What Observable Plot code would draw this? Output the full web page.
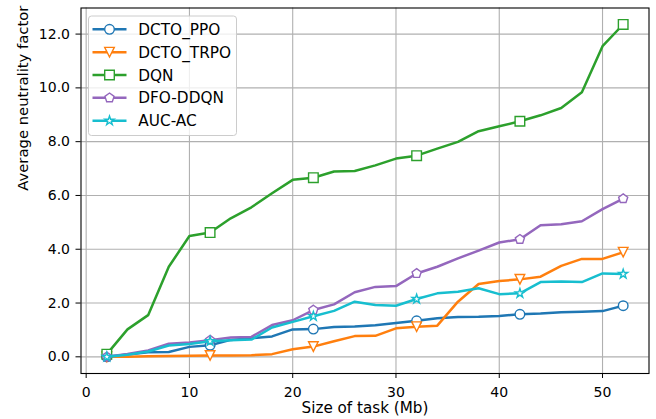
<!DOCTYPE html>
<html>
<head>
<meta charset="utf-8">
<script src="https://cdn.jsdelivr.net/npm/d3@7"></script>
<script src="https://cdn.jsdelivr.net/npm/@observablehq/plot@0.6"></script>
<style>
  html, body { margin: 0; padding: 0; background: #fff; }
  #chart { width: 656px; height: 419px; }
</style>
</head>
<body>
<div id="chart"></div>
<script>
// ---- data ----
const taskSizes = [2, 4, 6, 8, 10, 12, 14, 16, 18, 20, 22, 24, 26, 28, 30, 32, 34, 36, 38, 40, 42, 44, 46, 48, 50, 52];
const dctoPpo  = [0.00, 0.09, 0.17, 0.18, 0.37, 0.43, 0.63, 0.69, 0.76, 1.02, 1.03, 1.11, 1.13, 1.17, 1.26, 1.34, 1.43, 1.48, 1.49, 1.52, 1.58, 1.61, 1.66, 1.68, 1.70, 1.90];
const dctoTrpo = [0.00, 0.00, 0.02, 0.03, 0.04, 0.05, 0.05, 0.06, 0.10, 0.28, 0.38, 0.58, 0.77, 0.78, 1.06, 1.12, 1.16, 2.05, 2.71, 2.82, 2.88, 2.98, 3.38, 3.64, 3.64, 3.89];
const dqn      = [0.10, 1.02, 1.55, 3.35, 4.49, 4.62, 5.15, 5.56, 6.08, 6.58, 6.66, 6.89, 6.91, 7.12, 7.37, 7.48, 7.74, 7.99, 8.39, 8.57, 8.76, 8.98, 9.25, 9.84, 11.55, 12.36];
const dfoDdqn  = [0.00, 0.11, 0.24, 0.49, 0.53, 0.62, 0.72, 0.74, 1.18, 1.36, 1.74, 1.95, 2.40, 2.60, 2.63, 3.10, 3.35, 3.66, 3.95, 4.25, 4.37, 4.89, 4.93, 5.04, 5.49, 5.88];
const aucAc    = [0.00, 0.08, 0.20, 0.42, 0.48, 0.58, 0.62, 0.64, 1.09, 1.30, 1.51, 1.71, 2.05, 1.93, 1.90, 2.15, 2.36, 2.42, 2.55, 2.33, 2.36, 2.78, 2.80, 2.78, 3.10, 3.08];

const seriesNames  = ["DCTO_PPO", "DCTO_TRPO", "DQN", "DFO-DDQN", "AUC-AC"];
const seriesValues = [dctoPpo, dctoTrpo, dqn, dfoDdqn, aucAc];
const seriesColors = ["#1f77b4", "#ff7f0e", "#2ca02c", "#9467bd", "#17becf"];
const seriesMarkers = ["circle", "triangleDown", "square", "pentagon", "star"];
const markEvery = 5;

const xTicks = [0, 10, 20, 30, 40, 50];
const yTicks = [0, 2, 4, 6, 8, 10, 12];
const xLabel = "Size of task (Mb)";
const yLabel = "Average neutrality factor";

// ---- marker shapes (matplotlib-like) ----
const M = 9.6; // marker size in px
const h = M / 2;
const symbols = {
  circle: { draw(c) { c.moveTo(h, 0); c.arc(0, 0, h, 0, 2 * Math.PI); c.closePath(); } },
  square: { draw(c) { c.moveTo(-h, -h); c.lineTo(h, -h); c.lineTo(h, h); c.lineTo(-h, h); c.closePath(); } },
  triangleDown: { draw(c) { c.moveTo(0, h); c.lineTo(-h, -h); c.lineTo(h, -h); c.closePath(); } },
  pentagon: { draw(c) {
    for (let k = 0; k < 5; k++) {
      const a = -Math.PI / 2 + k * 2 * Math.PI / 5;
      const px = h * Math.cos(a), py = h * Math.sin(a);
      if (k === 0) c.moveTo(px, py); else c.lineTo(px, py);
    }
    c.closePath();
  } },
  star: { draw(c) {
    const inner = h * 0.381966;
    for (let k = 0; k < 10; k++) {
      const a = -Math.PI / 2 + k * Math.PI / 5;
      const rr = k % 2 === 0 ? h : inner;
      const px = rr * Math.cos(a), py = rr * Math.sin(a);
      if (k === 0) c.moveTo(px, py); else c.lineTo(px, py);
    }
    c.closePath();
  } }
};

// ---- build rows ----
const rows = [];
seriesNames.forEach((name, s) => {
  seriesValues[s].forEach((v, i) => rows.push({ series: name, s, i, x: taskSizes[i], y: v }));
});

const marks = [
  Plot.gridX(xTicks, { stroke: "#b0b0b0", strokeOpacity: 1, strokeWidth: 1.1 }),
  Plot.gridY(yTicks, { stroke: "#b0b0b0", strokeOpacity: 1, strokeWidth: 1.1 })
];
seriesNames.forEach((name, s) => {
  const d = rows.filter(r => r.s === s);
  marks.push(Plot.line(d, { x: "x", y: "y", stroke: seriesColors[s], strokeWidth: 2.5, strokeLinejoin: "round", strokeLinecap: "square" }));
  marks.push(Plot.dot(d.filter(r => r.i % markEvery === 0), {
    x: "x", y: "y", symbol: symbols[seriesMarkers[s]], r: 4.5,
    fill: "white", stroke: seriesColors[s], strokeWidth: 1.4
  }));
});
marks.push(
  Plot.frame({ stroke: "black", strokeWidth: 1.1 }),
  Plot.axisX(xTicks, { tickSize: 5, tickPadding: 8.5, fontSize: 14, label: null, stroke: "black", color: "black" }),
  Plot.axisY(yTicks, { tickSize: 5, tickPadding: 6, fontSize: 14, label: null, tickFormat: d3.format(".1f"), stroke: "black", color: "black" }),
  Plot.text([xLabel], { frameAnchor: "bottom", text: d => d, dy: 39, fontSize: 15.2, fill: "black" }),
  Plot.text([yLabel], { frameAnchor: "left", text: d => d, dx: -58, rotate: -90, fontSize: 14.8, fill: "black" })
);

const chart = Plot.plot({
  width: 656,
  height: 419,
  marginLeft: 80.5,
  marginRight: 7.5,
  marginTop: 7.5,
  marginBottom: 46,
  x: { domain: [-0.5, 54.5], label: null },
  y: { domain: [-0.62, 12.97], label: null },
  style: { fontFamily: "'DejaVu Sans', sans-serif", fontSize: "14px", background: "white", color: "black" },
  marks
});
document.getElementById("chart").appendChild(chart);

// ---- legend (top-left, matplotlib style) ----
const svg = d3.select(chart);
const lg = svg.append("g")
  .style("font-family", "'DejaVu Sans', sans-serif")
  .style("font-size", "15.3px")
  .style("text-anchor", "start");
lg.append("rect").attr("x", 88.5).attr("y", 16).attr("width", 148).attr("height", 119.5)
  .attr("rx", 3).attr("fill", "white").attr("fill-opacity", 0.8).attr("stroke", "#cccccc").attr("stroke-width", 1);
seriesNames.forEach((name, s) => {
  const cy = 29.3 + s * 22.85;
  const g = lg.append("g");
  g.append("line").attr("x1", 92.5).attr("x2", 126.5).attr("y1", cy).attr("y2", cy)
    .attr("stroke", seriesColors[s]).attr("stroke-width", 2.5);
  const p = d3.path();
  symbols[seriesMarkers[s]].draw(p);
  g.append("path").attr("d", p.toString()).attr("transform", `translate(109.5,${cy})`)
    .attr("fill", "white").attr("stroke", seriesColors[s]).attr("stroke-width", 1.4);
  g.append("text").attr("x", 138.3).attr("y", cy).attr("dy", "0.36em")
    .style("text-anchor", "start").style("font-size", "15.3px").attr("fill", "#000").text(name);
});
</script>
</body>
</html>
